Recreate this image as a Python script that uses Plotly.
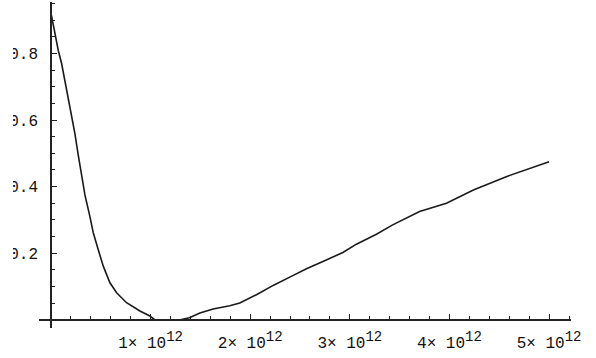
import plotly.graph_objects as go

# Curve samples (x in units of 1e12)
x_scaled = [0.005, 0.017, 0.04, 0.073, 0.107, 0.14, 0.174, 0.207, 0.24, 0.274, 0.308,
            0.341, 0.391, 0.424, 0.474, 0.525, 0.592, 0.659, 0.759, 0.893, 0.993,
            1.04, 1.30, 1.39, 1.495, 1.628, 1.795, 1.896, 2.063, 2.23, 2.397, 2.565,
            2.73, 2.93, 3.066, 3.267, 3.43, 3.70, 3.97, 4.24, 4.57, 5.0]
y_vals = [0.915, 0.895, 0.86, 0.81, 0.77, 0.72, 0.67, 0.62, 0.56, 0.495, 0.435,
          0.375, 0.31, 0.262, 0.211, 0.161, 0.111, 0.081, 0.051, 0.026, 0.011,
          0.0, 0.0, 0.006, 0.02, 0.032, 0.042, 0.05, 0.075, 0.103, 0.128, 0.153,
          0.175, 0.202, 0.227, 0.257, 0.285, 0.325, 0.35, 0.39, 0.43, 0.475]
x_vals = [v * 1e12 for v in x_scaled]

x_tick_vals = [1e12, 2e12, 3e12, 4e12, 5e12]
x_tick_mant = ["1", "2", "3", "4", "5"]
x_tick_text = [m + "\u00d7 10<sup><span style='font-size:14px'>12</span></sup>"
               for m in x_tick_mant]
y_tick_vals = [0.2, 0.4, 0.6, 0.8]
y_tick_text = ["0.2", "0.4", "0.6", "0.8"]

x_range = [-0.12e12, 5.22e12]
y_range = [-0.025, 0.955]

# place each axis line where the other axis is zero
x_axis_pos = (0 - y_range[0]) / (y_range[1] - y_range[0])
y_axis_pos = (0 - x_range[0]) / (x_range[1] - x_range[0])

font = dict(family="Liberation Mono, Courier New, monospace", size=16, color="#111")

fig = go.Figure(go.Scatter(x=x_vals, y=y_vals, mode="lines",
                           line=dict(color="#1a1a1a", width=1.6), hoverinfo="skip"))

fig.update_layout(
    width=596, height=358,
    margin=dict(l=39, r=25, t=1.5, b=29.7),
    paper_bgcolor="white", plot_bgcolor="white",
    showlegend=False,
    xaxis=dict(range=x_range, showgrid=False, zeroline=False,
               anchor="free", position=x_axis_pos,
               showline=True, linecolor="#222", linewidth=1.5,
               tickvals=x_tick_vals, ticktext=x_tick_text,
               ticks="inside", ticklen=5, tickwidth=1, tickcolor="#222",
               ticklabelstandoff=8, tickfont=font,
               minor=dict(tick0=0, dtick=2e11, ticks="inside", ticklen=3,
                          tickwidth=1, tickcolor="#222", showgrid=False)),
    yaxis=dict(range=y_range, showgrid=False, zeroline=False,
               anchor="free", position=y_axis_pos,
               showline=True, linecolor="#222", linewidth=1.5,
               tickvals=y_tick_vals, ticktext=y_tick_text,
               ticks="inside", ticklen=5, tickwidth=1, tickcolor="#222",
               ticklabelstandoff=9, tickfont=font,
               minor=dict(tick0=0, dtick=0.05, ticks="inside", ticklen=3,
                          tickwidth=1, tickcolor="#222", showgrid=False)),
    # the graphic's left edge trims the leading digit of the y labels
    shapes=[dict(type="rect", xref="paper", yref="paper", layer="above",
                 x0=-39 / 532, x1=-26 / 532, y0=0, y1=1,
                 fillcolor="white", line=dict(width=0))],
)

fig.write_html("out.html", config={"displayModeBar": False})
